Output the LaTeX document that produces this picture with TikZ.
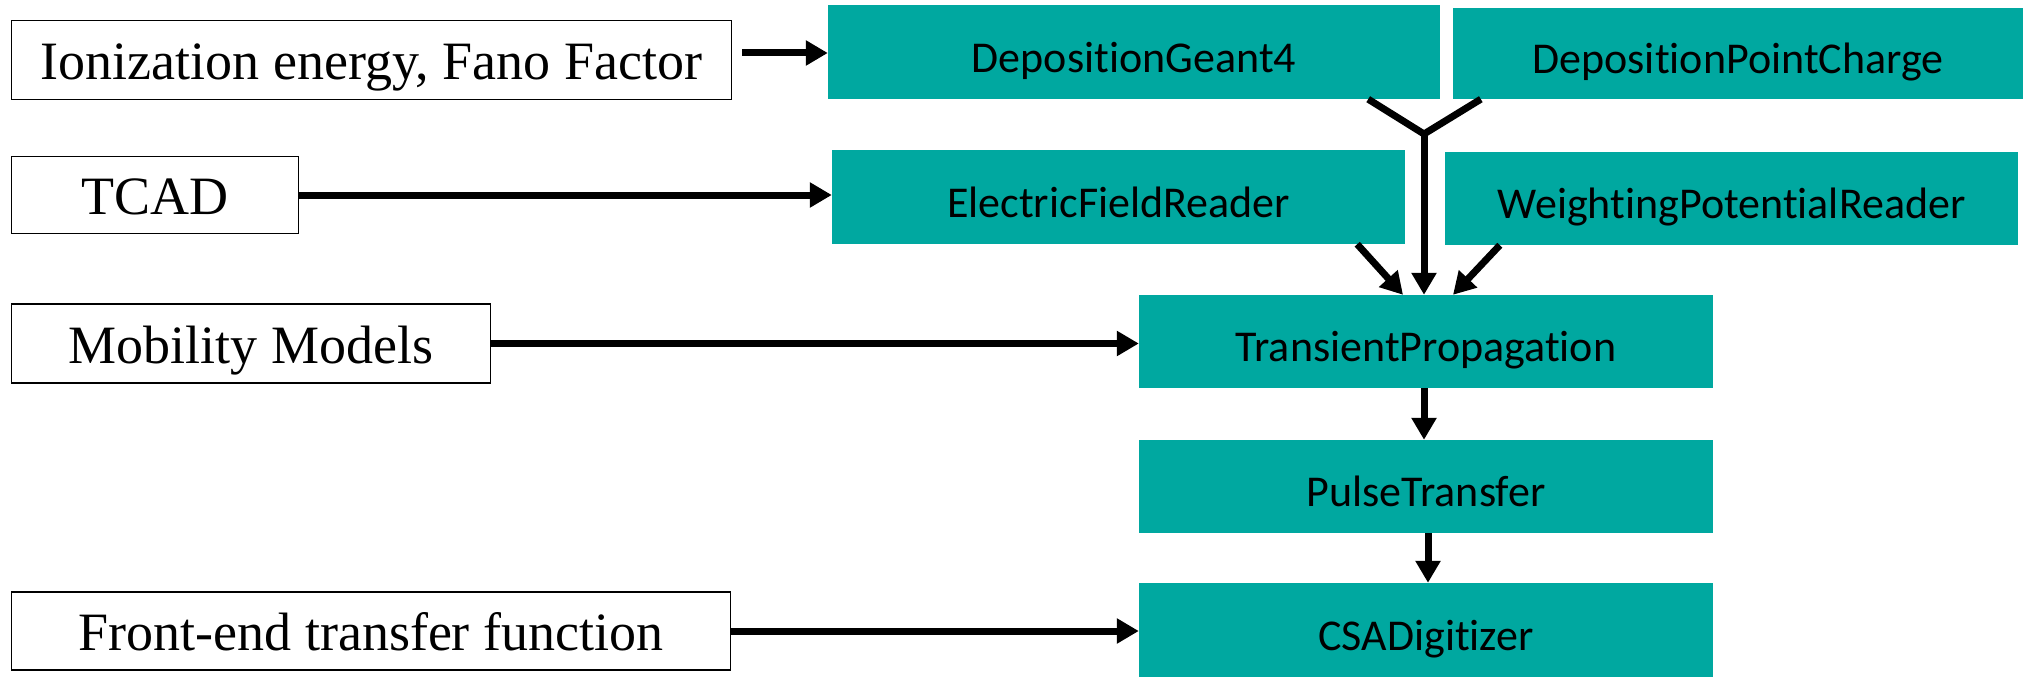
\documentclass[tikz,border=0pt]{standalone}
\usepackage{fontspec}
\setmainfont{Liberation Serif}
\newfontfamily\boxsans[Ligatures={NoCommon,NoContextual}]{Carlito}
\usetikzlibrary{arrows.meta}
\definecolor{teal1}{RGB}{0,168,160}
\begin{document}
\begin{tikzpicture}[x=1pt,y=-1pt,
  inbox/.style={draw=black,line width=1.8pt,fill=white,inner sep=0pt,text height=39pt,text depth=0pt,
    font=\fontsize{54}{60}\selectfont},
  modbox/.style={fill=teal1,inner sep=0pt,text=black,text height=40pt,text depth=0pt,
    font=\boxsans\fontsize{44}{50}\selectfont},
  arr/.style={line width=7pt,-{Triangle[length=22pt,width=24pt]}},
  ln/.style={line width=7pt}]
\useasboundingbox (0,0) rectangle (2023,677);
% input boxes
\node[inbox,minimum width=720pt,minimum height=79pt] (ion) at (371.5,60) {Ionization energy, Fano Factor};
\node[inbox,minimum width=287pt,minimum height=77pt] (tcad) at (155,195) {TCAD};
\node[inbox,minimum width=479pt,minimum height=79pt] (mob) at (251,343.5) {Mobility Models};
\node[inbox,minimum width=719pt,minimum height=78pt] (fe) at (371,631) {Front-end transfer function};
% module boxes
\node[modbox,minimum width=612pt,minimum height=94pt] (geant) at (1134,52) {DepositionGeant4};
\node[modbox,minimum width=570pt,minimum height=91pt] (point) at (1738,53.5) {DepositionPointCharge};
\node[modbox,minimum width=573pt,minimum height=94pt] (efield) at (1118.5,197) {ElectricFieldReader};
\node[modbox,minimum width=573pt,minimum height=93pt] (wp) at (1731.5,198.5) {WeightingPotentialReader};
\node[modbox,minimum width=574pt,minimum height=93pt] (tp) at (1426,341.5) {TransientPropagation};
\node[modbox,minimum width=574pt,minimum height=93pt] (pulse) at (1426,486.5) {PulseTransfer};
\node[modbox,minimum width=574pt,minimum height=94pt] (csa) at (1426,630) {CSADigitizer};
% junction
\coordinate (j) at (1424,134);
% connectors
\draw[arr] ([xshift=10pt,yshift=7pt]ion.east) coordinate (a1) -- (a1 -| geant.west);
\draw[arr] (tcad.east) -- (tcad.east -| efield.west);
\draw[arr] (mob.east) -- (mob.east -| tp.west);
\draw[arr] (fe.east) -- (fe.east -| csa.west);
\draw[ln,line join=miter] ([xshift=-72pt]geant.south east) -- (j) -- ([xshift=28pt]point.south west);
\draw[arr] (j) -- (j |- tp.north);
\draw[arr] ([xshift=-48pt]efield.south east) -- ([xshift=-23pt]tp.north);
\draw[arr] ([xshift=55pt]wp.south west) -- ([xshift=27pt]tp.north);
\draw[arr] ([xshift=-2pt]tp.south) -- ([xshift=-2pt]pulse.north);
\draw[arr] ([xshift=2pt]pulse.south) -- ([xshift=2pt]csa.north);
\end{tikzpicture}
\end{document}
